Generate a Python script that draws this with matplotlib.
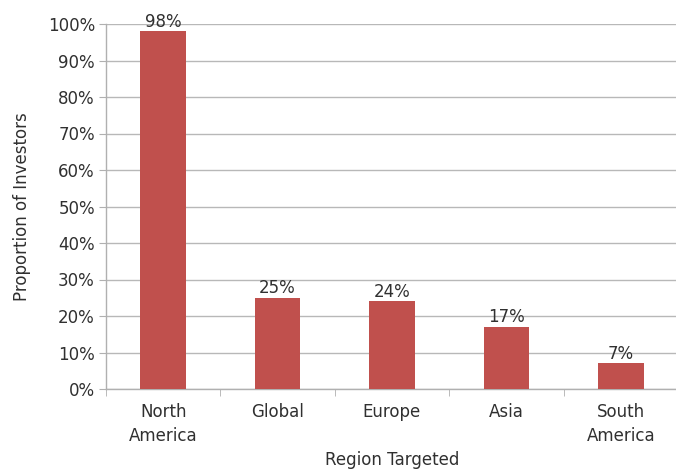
import matplotlib
matplotlib.use("Agg")
import matplotlib.pyplot as plt
from matplotlib.ticker import FuncFormatter, FixedLocator

categories = ["North\nAmerica", "Global", "Europe", "Asia", "South\nAmerica"]
values = [98, 25, 24, 17, 7]
yticks = [0, 10, 20, 30, 40, 50, 60, 70, 80, 90, 100]

plt.rcParams['font.family'] = ['DejaVu Sans']
txt = '#303030'
fig = plt.figure(figsize=(6.76, 4.72), dpi=100)
ax = fig.add_axes([106/676, 83/472, 572/676, 365/472])

x = list(range(len(categories)))
ax.bar(x, values, width=0.4, color='#C0504D', zorder=3)
for xi, v in zip(x, values):
    ax.text(xi, v + 0.2, f"{v}%", ha='center', va='bottom', fontsize=12, color=txt, zorder=4)

ax.set_xlim(-0.5, len(categories) - 0.5)
ax.set_ylim(0, 100)
ax.set_yticks(yticks)
ax.yaxis.set_major_formatter(FuncFormatter(lambda v, p: f"{int(v)}%"))
ax.set_xticks(x)
ax.set_xticklabels(categories, linespacing=1.45)
ax.xaxis.set_minor_locator(FixedLocator([i - 0.5 for i in range(len(categories) + 1)]))
ax.tick_params(axis='x', which='major', length=0, pad=10, labelsize=12, labelcolor=txt)
ax.tick_params(axis='x', which='minor', length=5, color='#B0B0B0', direction='out')
ax.tick_params(axis='y', length=5, color='#B0B0B0', labelsize=12, labelcolor=txt, pad=3)
ax.grid(axis='y', color='#B8B8B8', linewidth=1.0, zorder=0)
for s in ['top', 'right']:
    ax.spines[s].set_visible(False)
for s in ['left', 'bottom']:
    ax.spines[s].set_color('#B0B0B0')
    ax.spines[s].set_linewidth(1.0)

ax.set_xlabel("Region Targeted", fontsize=12, color=txt, labelpad=4)
ax.set_ylabel("Proportion of Investors", fontsize=12, color=txt, labelpad=12)

fig.savefig("out.png", dpi=100)
